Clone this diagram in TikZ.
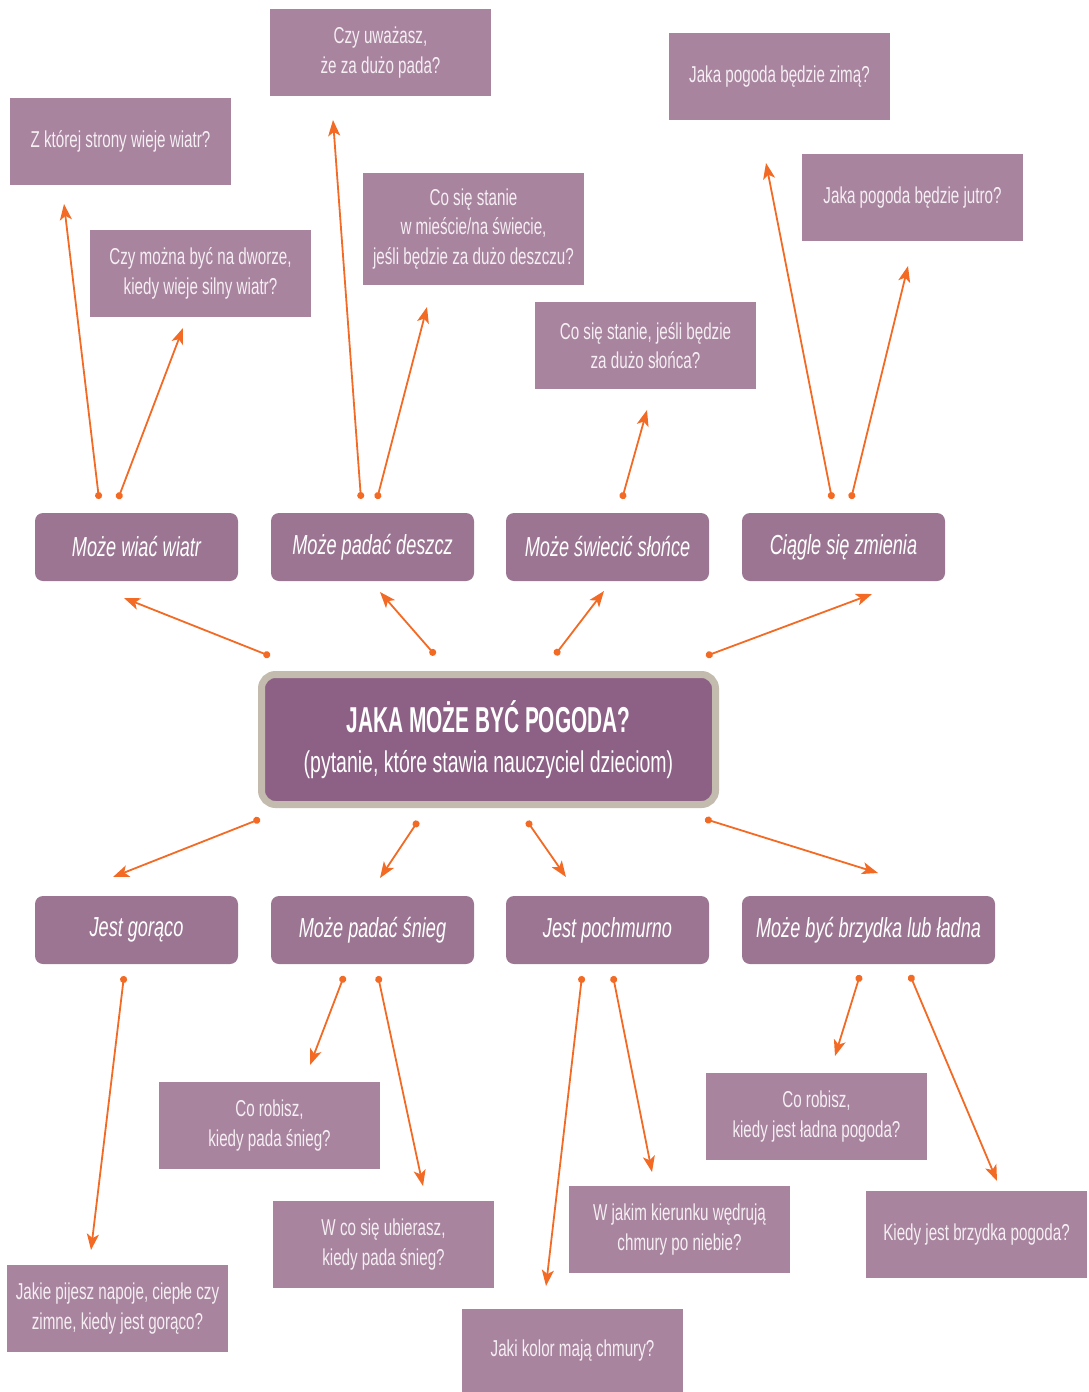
\documentclass[tikz,border=0pt]{standalone}
\usepackage{fontspec}
\setmainfont[FakeStretch=0.66]{Liberation Sans}
\newfontfamily\titlefont[FakeStretch=0.58]{Liberation Sans}
\newfontfamily\subfont[FakeStretch=0.65]{Liberation Sans}
\usetikzlibrary{arrows.meta}
\definecolor{qbox}{HTML}{A8849F}
\definecolor{mbox}{HTML}{9C7593}
\definecolor{cbox}{HTML}{8D6186}
\definecolor{cborder}{HTML}{C3BBAD}
\definecolor{arrc}{HTML}{F26A24}
\definecolor{qtext}{HTML}{F5EEF3}
\begin{document}
\begin{tikzpicture}[x=1pt,y=-1pt,
  qnode/.style={fill=qbox, text=qtext, minimum width=221pt, minimum height=87pt, inner sep=0pt, align=center, font=\fontsize{23}{29.5}\selectfont},
  mnode/.style={fill=mbox, text=white, rounded corners=8pt, minimum width=203pt, minimum height=68pt, inner sep=0pt, font=\fontsize{27.5}{30}\selectfont\itshape},
  arr/.style={draw=arrc, line width=1.8pt, {Circle[length=7pt]}-{Stealth[length=16pt,width=12pt,inset=4pt]}}
]
\useasboundingbox (0,0) rectangle (1089,1392);

% question boxes (top)
\node[qnode] (q1) at (380.5,52.5) {Czy uważasz,\\że za dużo pada?};
\node[qnode] (q2) at (120.5,141) {Z której strony wieje wiatr?};
\node[qnode] (q3) at (200.5,273.5) {Czy można być na dworze,\\kiedy wieje silny wiatr?};
\node[qnode, minimum height=112pt] (q4) at (473.5,229) {Co się stanie\\w mieście/na świecie,\\jeśli będzie za dużo deszczu?};
\node[qnode] (q5) at (645.5,345.5) {Co się stanie, jeśli będzie\\za dużo słońca?};
\node[qnode] (q6) at (779.5,76.5) {Jaka pogoda będzie zimą?};
\node[qnode] (q7) at (912.5,197.5) {Jaka pogoda będzie jutro?};

% question boxes (bottom)
\node[qnode] (q8) at (269.5,1125.5) {Co robisz,\\kiedy pada śnieg?};
\node[qnode] (q9) at (383.5,1244.5) {W co się ubierasz,\\kiedy pada śnieg?};
\node[qnode] (q10) at (117.5,1308.5) {Jakie pijesz napoje, ciepłe czy\\zimne, kiedy jest gorąco?};
\node[qnode, minimum height=84pt] (q11) at (572.5,1351) {Jaki kolor mają chmury?};
\node[qnode] (q12) at (679.5,1229.5) {W jakim kierunku wędrują\\chmury po niebie?};
\node[qnode] (q13) at (816.5,1116.5) {Co robisz,\\kiedy jest ładna pogoda?};
\node[qnode] (q14) at (976.5,1234.5) {Kiedy jest brzydka pogoda?};

% middle nodes
\node[mnode] (m1) at (136.5,547) {Może wiać wiatr};
\node[mnode] (m2) at (372.5,547) {Może padać deszcz};
\node[mnode] (m3) at (607.5,547) {Może świecić słońce};
\node[mnode] (m4) at (843.5,547) {Ciągle się zmienia};
\node[mnode] (m5) at (136.5,930) {Jest gorąco};
\node[mnode] (m6) at (372.5,930) {Może padać śnieg};
\node[mnode] (m7) at (607.5,930) {Jest pochmurno};
\node[mnode, minimum width=253pt] (m8) at (868.5,930) {Może być brzydka lub ładna};

% center
\node[fill=cbox, draw=cborder, line width=7pt, rounded corners=14pt, minimum width=454pt, minimum height=130pt, inner sep=0pt, text=white, align=center] (c) at (488.5,739.5)
  {{\titlefont\fontsize{36}{38}\selectfont\bfseries JAKA MOŻE BYĆ POGODA?}\\[16pt]
   {\subfont\fontsize{30}{32}\selectfont (pytanie, które stawia nauczyciel dzieciom)}};

% arrow end points
\coordinate (ct1) at (270,656);  \coordinate (ch1) at (124,598);
\coordinate (ct2) at (435,655);  \coordinate (ch2) at (380,592);
\coordinate (ct3) at (555,655);  \coordinate (ch3) at (604,591);
\coordinate (ct4) at (706,656);  \coordinate (ch4) at (872,594);
\coordinate (cb1) at (260,819);  \coordinate (cd1) at (113,877);
\coordinate (cb2) at (418,821);  \coordinate (cd2) at (380,878);
\coordinate (cb3) at (527,821);  \coordinate (cd3) at (566,877);
\coordinate (cb4) at (705,819);  \coordinate (cd4) at (878,873);

\coordinate (a1) at (99,499);   \coordinate (b1) at (64,204);
\coordinate (a2) at (118,499);  \coordinate (b2) at (183,328);
\coordinate (a3) at (361,499);  \coordinate (b3) at (333,120);
\coordinate (a4) at (377,499);  \coordinate (b4) at (427,307);
\coordinate (a5) at (622,499);  \coordinate (b5) at (647,410);
\coordinate (a6) at (832,499);  \coordinate (b6) at (766,163);
\coordinate (a7) at (851,499);  \coordinate (b7) at (908,266);

\coordinate (d1) at (124,976);  \coordinate (e1) at (91,1250);
\coordinate (d2) at (344,976);  \coordinate (e2) at (310,1065);
\coordinate (d3) at (378,976);  \coordinate (e3) at (423,1186);
\coordinate (d4) at (582,976);  \coordinate (e4) at (546,1286);
\coordinate (d5) at (613,976);  \coordinate (e5) at (652,1172);
\coordinate (d6) at (860,975);  \coordinate (e6) at (835,1056);
\coordinate (d7) at (910,975);  \coordinate (e7) at (997,1181);

\foreach \s/\t in {ct1/ch1,ct2/ch2,ct3/ch3,ct4/ch4,cb1/cd1,cb2/cd2,cb3/cd3,cb4/cd4,
  a1/b1,a2/b2,a3/b3,a4/b4,a5/b5,a6/b6,a7/b7,d1/e1,d2/e2,d3/e3,d4/e4,d5/e5,d6/e6,d7/e7}
  \draw[arr] (\s) -- (\t);
\end{tikzpicture}
\end{document}
